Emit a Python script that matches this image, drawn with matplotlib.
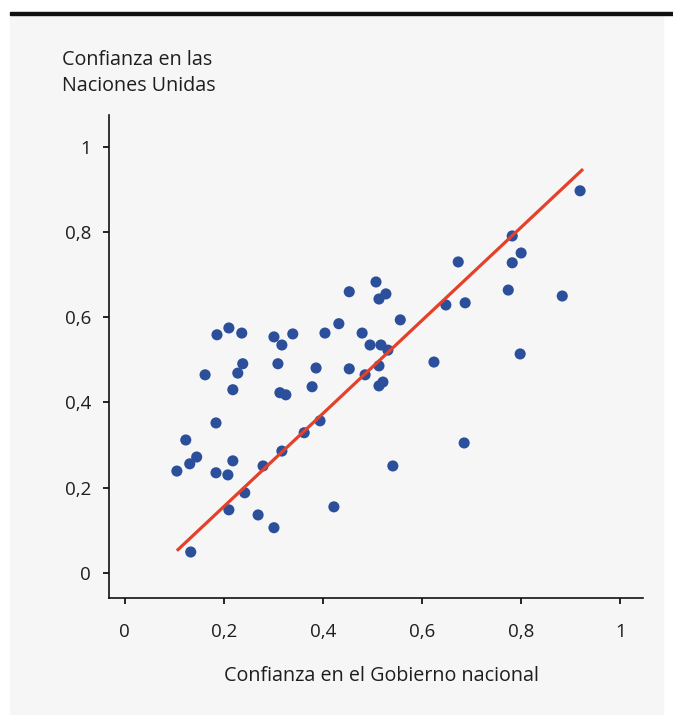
import matplotlib.pyplot as plt
import matplotlib.patches as mpatches
import numpy as np

plt.rcParams['font.family'] = ['Open Sans', 'DejaVu Sans']

# Confianza en el Gobierno nacional (x) / en las Naciones Unidas (y)
gov = [0.919, 0.782, 0.800, 0.782, 0.673, 0.774, 0.883, 0.507, 0.453, 0.527,
       0.513, 0.648, 0.687, 0.432, 0.556, 0.479, 0.495, 0.517, 0.531, 0.453,
       0.513, 0.624, 0.798, 0.186, 0.210, 0.236, 0.301, 0.317, 0.339, 0.404,
       0.238, 0.309, 0.386, 0.228, 0.162, 0.218, 0.313, 0.325, 0.378, 0.184,
       0.123, 0.145, 0.131, 0.105, 0.218, 0.184, 0.208, 0.279, 0.317, 0.362,
       0.394, 0.242, 0.210, 0.269, 0.301, 0.133, 0.422, 0.485, 0.521, 0.685,
       0.541, 0.513]
un = [0.897, 0.791, 0.751, 0.728, 0.730, 0.664, 0.650, 0.683, 0.660, 0.655,
      0.643, 0.629, 0.634, 0.585, 0.594, 0.563, 0.535, 0.535, 0.523, 0.479,
      0.486, 0.495, 0.514, 0.559, 0.575, 0.563, 0.554, 0.535, 0.561, 0.563,
      0.491, 0.491, 0.481, 0.469, 0.465, 0.430, 0.423, 0.418, 0.437, 0.352,
      0.312, 0.272, 0.256, 0.239, 0.263, 0.235, 0.230, 0.251, 0.286, 0.329,
      0.357, 0.188, 0.148, 0.136, 0.106, 0.049, 0.155, 0.465, 0.448, 0.305,
      0.251, 0.439]

# trend line end points
trend_x = [0.105, 0.925]
trend_y = [0.052, 0.948]

ticks = [0, 0.2, 0.4, 0.6, 0.8, 1]
tick_labels = ['0', '0,2', '0,4', '0,6', '0,8', '1']

bg = '#f6f6f6'
fig = plt.figure(figsize=(6.73, 7.15), dpi=100)
fig.patch.set_facecolor('white')

# grey panel and black rule at top
fig.patches.append(mpatches.Rectangle((10/673, 0), 653/673, 1 - 15/715,
                                      transform=fig.transFigure, color=bg, zorder=0))
fig.patches.append(mpatches.Rectangle((10/673, 1 - 15/715), 663/673, 3/715,
                                      transform=fig.transFigure, color='#111111', zorder=1))

ax = fig.add_axes([109/673, 1 - 598/715, (643 - 109)/673, (598 - 115)/715])
ax.set_zorder(5)
ax.set_facecolor(bg)

ax.scatter(gov, un, s=64, color='#2b4f9a', edgecolors='none', zorder=3)
ax.plot(trend_x, trend_y, color='#e4402a', lw=2.3, solid_capstyle='butt', zorder=4)

ax.set_xlim(-0.032, 1.046)
ax.set_ylim(-0.059, 1.075)
ax.set_xticks(ticks)
ax.set_xticklabels(tick_labels)
ax.set_yticks(ticks)
ax.set_yticklabels(tick_labels)

for s in ['top', 'right']:
    ax.spines[s].set_visible(False)
for s in ['left', 'bottom']:
    ax.spines[s].set_linewidth(1.2)
    ax.spines[s].set_color('#111111')

ax.tick_params(axis='x', length=4, width=1.2, pad=14, labelsize=13.5, labelcolor='#1e1e1e')
ax.tick_params(axis='y', length=4, width=1.2, pad=9, labelsize=13.5, labelcolor='#1e1e1e')

fig.text(62/673, 1 - 60/715, 'Confianza en las', ha='left', va='center',
         fontsize=14.2, color='#1e1e1e')
fig.text(62/673, 1 - 86/715, 'Naciones Unidas', ha='left', va='center',
         fontsize=14.2, color='#1e1e1e')
fig.text(382/673, 1 - 676/715, 'Confianza en el Gobierno nacional', ha='center',
         va='center', fontsize=14.2, color='#1e1e1e')

fig.savefig('out.png', dpi=100, facecolor=fig.get_facecolor())
